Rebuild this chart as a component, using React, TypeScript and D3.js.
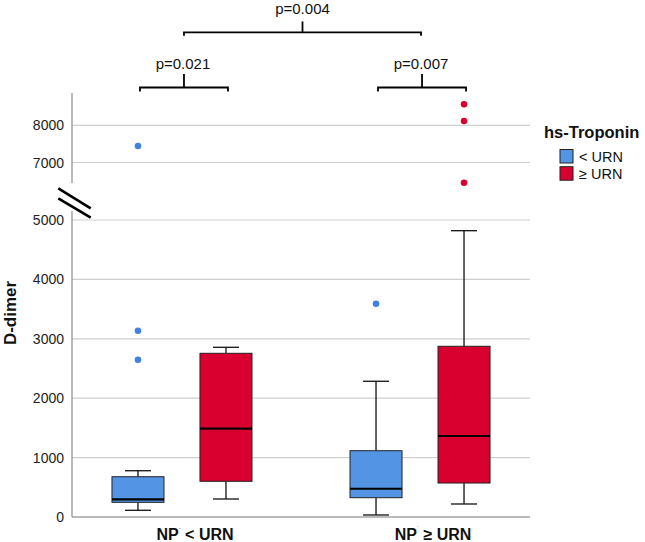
import React from "react";
import * as d3 from "d3";

// ---- data ----
const groups = ["NP- < URN", "NP ≥ URN"];
const groupLabelMain = ["NP", "NP"];
const groupLabelSup = ["-", "˙"];
const groupLabelRest = [" < URN", " ≥ URN"];
const series = ["< URN", "≥ URN"];
const seriesColors = ["#5394E5", "#D9002F"];
const outlierColors = ["#3F82E0", "#D9002F"];

// five-number summaries: [whiskerLow, q1, median, q3, whiskerHigh]
const lowURN = [
  [113, 247, 298, 678, 779],
  [34, 325, 476, 1116, 2285],
];
const highURN = [
  [303, 601, 1487, 2756, 2857],
  [219, 572, 1364, 2874, 4820],
];
const lowURNOutliers = [[2648, 3136, 7444], [3591]];
const highURNOutliers = [[], [6457, 8116, 8565]];

const lowerTicks = [0, 1000, 2000, 3000, 4000, 5000];
const upperTicks = [7000, 8000];

const pWithin = ["p=0.021", "p=0.007"];
const pBetween = "p=0.004";

const FONT = "'Liberation Sans', Arial, sans-serif";

export default function App() {
  const W = 645, H = 542;
  const left = 72, right = 530, top = 93, bottom = 517;

  const yLow = d3.scaleLinear().domain([0, 5000]).range([bottom, 220]);
  const yHigh = d3.scaleLinear().domain([7000, 8000]).range([162.5, 125.3]);
  const y = (v: number) => (v > 5000 ? yHigh(v) : yLow(v));

  const x = d3.scalePoint<string>().domain(groups).range([left, right]).padding(0.462);
  const xs = d3.scalePoint<string>().domain(series).range([-44, 44]);

  const boxW = 52, capW = 26;

  const boxes: { g: number; s: number; st: number[]; out: number[] }[] = [];
  groups.forEach((_, gi) => {
    boxes.push({ g: gi, s: 0, st: lowURN[gi], out: lowURNOutliers[gi] });
    boxes.push({ g: gi, s: 1, st: highURN[gi], out: highURNOutliers[gi] });
  });

  const cx = (gi: number, si: number) => (x(groups[gi]) as number) + (xs(series[si]) as number);

  const bracket = (x1: number, x2: number, yy: number, drop: number) =>
    `M${x1},${yy + drop}V${yy}H${x2}V${yy + drop}`;

  return (
    <svg width={W} height={H} style={{ position: "absolute", left: 0, top: 0, background: "#fff" }}>
      <rect x={0} y={0} width={W} height={H} fill="#fff" />
      {/* gridlines */}
      {[...lowerTicks, ...upperTicks].map((t) => (
        <line key={"g" + t} x1={left} x2={right} y1={y(t)} y2={y(t)} stroke="#cfcfcf" strokeWidth={1.2} />
      ))}
      {/* axes */}
      <line x1={left} x2={left} y1={top} y2={bottom} stroke="#8c8c8c" strokeWidth={1.2} />
      <line x1={left} x2={right} y1={bottom} y2={bottom} stroke="#8c8c8c" strokeWidth={1.2} />
      {/* tick labels */}
      {[...lowerTicks, ...upperTicks].map((t) => (
        <text key={"t" + t} x={64} y={y(t) + 5} textAnchor="end" fontFamily={FONT} fontSize={14} fill="#222">
          {t}
        </text>
      ))}
      {/* axis break */}
      <polygon points="56,186 93,206 93,221 56,201" fill="#fff" transform="translate(0,-1)" />
      <rect x={66} y={183} width={12} height={28} fill="#fff" />
      <line x1={58.3} y1={188.3} x2={90.7} y2={208.3} stroke="#000" strokeWidth={2.6} />
      <line x1={58.3} y1={198.3} x2={90.7} y2={217.7} stroke="#000" strokeWidth={2.6} />
      {/* y title */}
      <text
        transform={`translate(16,313) rotate(-90)`}
        textAnchor="middle"
        fontFamily={FONT}
        fontWeight="bold"
        fontSize={17}
        fill="#111"
      >
        D-dimer
      </text>
      {/* boxes */}
      {boxes.map((b, i) => {
        const c = cx(b.g, b.s);
        const [wl, q1, md, q3, wh] = b.st;
        return (
          <g key={"b" + i}>
            <line x1={c} x2={c} y1={y(q3)} y2={y(wh)} stroke="#111" strokeWidth={1.3} />
            <line x1={c} x2={c} y1={y(q1)} y2={y(wl)} stroke="#111" strokeWidth={1.3} />
            <line x1={c - capW / 2} x2={c + capW / 2} y1={y(wh)} y2={y(wh)} stroke="#111" strokeWidth={1.3} />
            <line x1={c - capW / 2} x2={c + capW / 2} y1={y(wl)} y2={y(wl)} stroke="#111" strokeWidth={1.3} />
            <rect
              x={c - boxW / 2}
              y={y(q3)}
              width={boxW}
              height={y(q1) - y(q3)}
              fill={seriesColors[b.s]}
              stroke="#222"
              strokeWidth={1}
            />
            <line x1={c - boxW / 2} x2={c + boxW / 2} y1={y(md)} y2={y(md)} stroke="#000" strokeWidth={2.2} />
            {b.out.map((o, j) => (
              <circle key={j} cx={c} cy={y(o)} r={3.3} fill={outlierColors[b.s]} />
            ))}
          </g>
        );
      })}
      {/* x labels */}
      {groups.map((g, gi) => (
        <text
          key={"xl" + gi}
          x={(x(g) as number) + 13}
          y={540}
          textAnchor="middle"
          fontFamily={FONT}
          fontWeight="bold"
          fontSize={16}
          fill="#111"
        >
          {groupLabelMain[gi]}
          <tspan fontSize={6} dy={-10} fill="#999">
            {groupLabelSup[gi]}
          </tspan>
          <tspan dy={10}>{groupLabelRest[gi]}</tspan>
        </text>
      ))}
      {/* within-group brackets */}
      {groups.map((g, gi) => {
        const x1 = cx(gi, 0) + 2, x2 = cx(gi, 1) + 2;
        const mid = (x1 + x2) / 2;
        return (
          <g key={"br" + gi}>
            <path d={bracket(x1, x2, 87.5, 4)} fill="none" stroke="#000" strokeWidth={1.8} />
            <line x1={mid} x2={mid} y1={74} y2={87.5} stroke="#000" strokeWidth={1.8} />
            <text x={mid - 1} y={69} textAnchor="middle" fontFamily={FONT} fontSize={15} fill="#111">
              {pWithin[gi]}
            </text>
          </g>
        );
      })}
      {/* between-group bracket */}
      {(() => {
        const x1 = (x(groups[0]) as number) + 2, x2 = (x(groups[1]) as number) + 1;
        const mid = (x1 + x2) / 2;
        return (
          <g>
            <path d={bracket(x1, x2, 32.3, 3.5)} fill="none" stroke="#000" strokeWidth={1.8} />
            <line x1={mid} x2={mid} y1={21.5} y2={32.3} stroke="#000" strokeWidth={1.8} />
            <text x={mid} y={14} textAnchor="middle" fontFamily={FONT} fontSize={15} fill="#111">
              {pBetween}
            </text>
          </g>
        );
      })()}
      {/* legend */}
      <text x={544} y={138} fontFamily={FONT} fontWeight="bold" fontSize={16.5} fill="#111">
        hs-Troponin
      </text>
      {series.map((s, si) => (
        <g key={"lg" + si}>
          <rect
            x={560}
            y={149.5 + si * 17.2}
            width={13}
            height={13.5}
            fill={seriesColors[si]}
            stroke="#222"
            strokeWidth={1}
          />
          <text x={579} y={162 + si * 17.2} fontFamily={FONT} fontSize={14.5} fill="#111">
            {s}
          </text>
        </g>
      ))}
    </svg>
  );
}
